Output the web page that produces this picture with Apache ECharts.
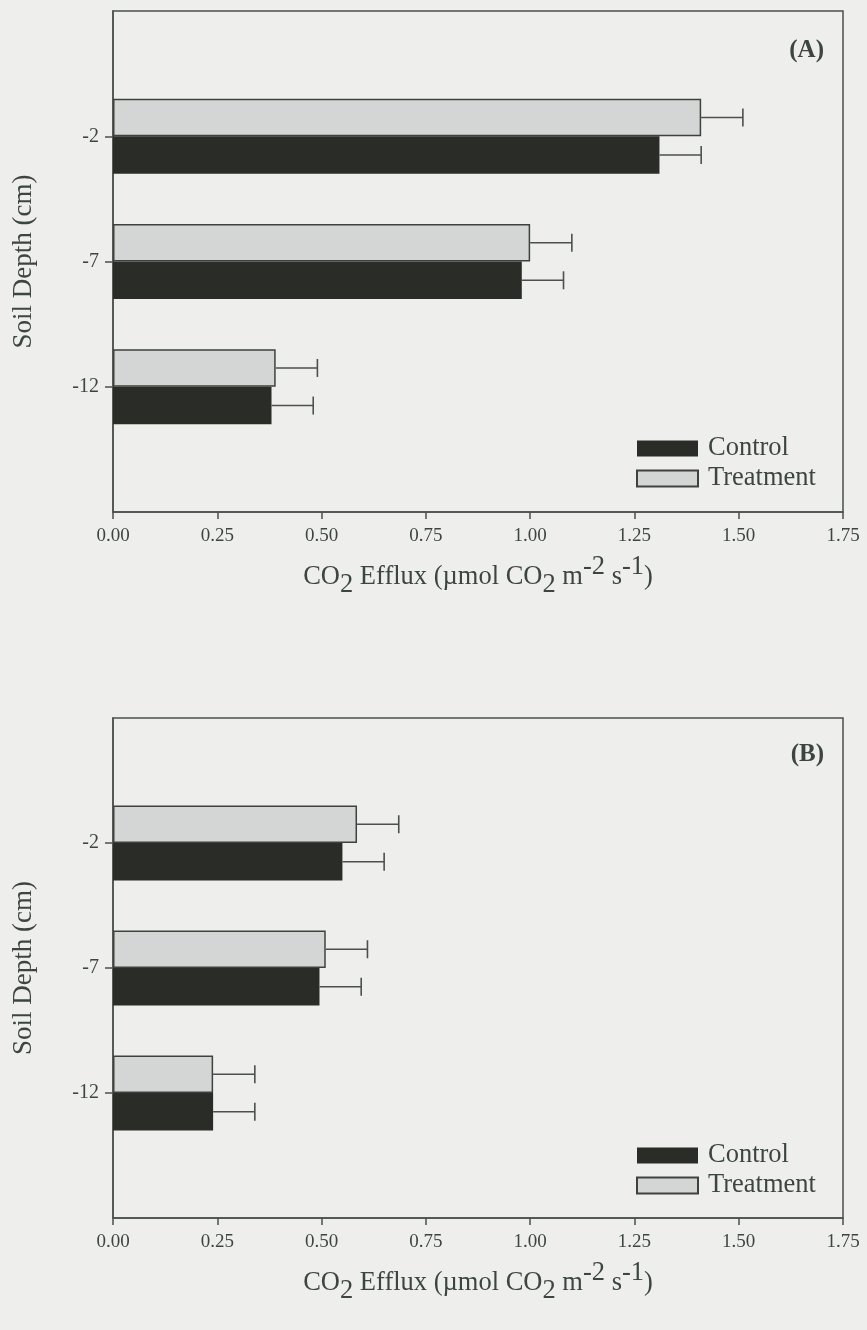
<!DOCTYPE html>
<html>
<head>
<meta charset="utf-8">
<script src="https://cdn.jsdelivr.net/npm/echarts@6/dist/echarts.min.js"></script>
<style>
  html, body { margin: 0; padding: 0; background: #eeefed; }
  #chart { width: 867px; height: 1330px; }
</style>
</head>
<body>
<div id="chart"></div>
<script>
// Soil depth categories (empty slots pad the axis above and below)
const depthLabels = ['-2', '-7', '-12'];
const axisSlots = ['', '-2', '-7', '-12', ''];

// Panel A: CO2 efflux by depth
const treatmentA = [1.41, 1.00, 0.39];
const controlA = [1.31, 0.98, 0.38];
const errTreatmentA = [0.10, 0.10, 0.10];
const errControlA = [0.10, 0.10, 0.10];

// Panel B: CO2 efflux by depth
const treatmentB = [0.585, 0.51, 0.24];
const controlB = [0.55, 0.495, 0.24];
const errTreatmentB = [0.10, 0.10, 0.10];
const errControlB = [0.10, 0.10, 0.10];

// Efflux axis range
const xMin = 0;
const xMax = 1.75;
const xStep = 0.25;

const SERIF = '"Liberation Serif", "Times New Roman", serif';
const INK = '#3c463e';
const LINE = '#4b504b';
const DARK = '#2a2d27';
const LIGHT = '#d3d6d4';

const nameRich = {
  b:   { fontFamily: SERIF, fontSize: 26.5, color: INK, verticalAlign: 'top', padding: [10, 0, 0, 0] },
  sub: { fontFamily: SERIF, fontSize: 26.5, color: INK, verticalAlign: 'top', padding: [18, 0, 0, 0] },
  sup: { fontFamily: SERIF, fontSize: 26.5, color: INK, verticalAlign: 'top', padding: [0, 0, 0, 0] }
};
const xName = '{b|CO}{sub|2}{b| Efflux (\u00b5mol CO}{sub|2}{b| m}{sup|-2}{b| s}{sup|-1}{b|)}';

function xAxisFor(gridIndex) {
  return {
    type: 'value', gridIndex, min: xMin, max: xMax, interval: xStep,
    name: xName, nameLocation: 'middle', nameGap: 42,
    nameTextStyle: { rich: nameRich },
    axisLine: { show: true, lineStyle: { color: LINE, width: 1.5 } },
    axisTick: { show: true, length: 7, inside: false, lineStyle: { color: LINE, width: 1.5 } },
    axisLabel: {
      margin: 15, fontFamily: SERIF, fontSize: 19, color: INK,
      formatter: v => v.toFixed(2)
    },
    splitLine: { show: false }
  };
}

function yAxisFor(gridIndex) {
  return {
    type: 'category', gridIndex, data: axisSlots, inverse: true, boundaryGap: false,
    name: 'Soil Depth (cm)', nameLocation: 'middle', nameGap: 76, nameRotate: 90,
    nameTextStyle: { fontFamily: SERIF, fontSize: 27, color: INK },
    axisLine: { show: true, lineStyle: { color: LINE, width: 1.5 } },
    axisTick: {
      show: true, length: 8, inside: false,
      interval: (i, v) => v !== '',
      lineStyle: { color: LINE, width: 1.5 }
    },
    axisLabel: {
      margin: 14, fontFamily: SERIF, fontSize: 20, color: INK,
      interval: (i, v) => v !== ''
    },
    splitLine: { show: false }
  };
}

function barSeries(name, gridIndex, values, color, border) {
  return {
    name, type: 'bar', xAxisIndex: gridIndex, yAxisIndex: gridIndex,
    data: depthLabels.map((d, i) => [values[i], d]),
    encode: { x: 0, y: 1 },
    barWidth: '30%', barGap: '0%',
    itemStyle: { color, borderColor: border, borderWidth: border ? 1.5 : 0 },
    emphasis: { disabled: true }
  };
}

// Right-hand error whiskers, offset to sit on the matching bar
function errorSeries(gridIndex, values, errs, side) {
  return {
    type: 'custom', xAxisIndex: gridIndex, yAxisIndex: gridIndex, silent: true, z: 5,
    data: depthLabels.map((d, i) => [values[i], d, values[i] + errs[i]]),
    encode: { x: [0, 2], y: 1 },
    renderItem(params, api) {
      const cat = api.value(1);
      const start = api.coord([api.value(0), cat]);
      const end = api.coord([api.value(2), cat]);
      const band = api.size([0, 1])[1];
      const y = start[1] + side * band * 0.15;
      const cap = 9;
      const st = { stroke: LINE, lineWidth: 1.6 };
      return {
        type: 'group',
        children: [
          { type: 'line', shape: { x1: start[0], y1: y, x2: end[0], y2: y }, style: st },
          { type: 'line', shape: { x1: end[0], y1: y - cap, x2: end[0], y2: y + cap }, style: st }
        ]
      };
    }
  };
}

function legendFor(top) {
  return {
    left: 631, top, orient: 'vertical', itemWidth: 61, itemHeight: 16, itemGap: 3,
    icon: 'rect', selectedMode: false,
    data: ['Control', 'Treatment'],
    textStyle: { fontFamily: SERIF, fontSize: 26.5, color: INK, padding: [0, 0, 0, 5] }
  };
}

const chart = echarts.init(document.getElementById('chart'), null, { renderer: 'canvas' });
chart.setOption({
  backgroundColor: '#eeefed',
  animation: false,
  title: [
    { text: '(A)', right: 38, top: 33, textStyle: { fontFamily: SERIF, fontSize: 25, fontWeight: 'bold', color: INK } },
    { text: '(B)', right: 38, top: 737, textStyle: { fontFamily: SERIF, fontSize: 25, fontWeight: 'bold', color: INK } }
  ],
  legend: [legendFor(430), legendFor(1137)],
  grid: [
    { left: 113, right: 24, top: 11, height: 501, show: true, borderColor: LINE, borderWidth: 1.5, backgroundColor: 'transparent' },
    { left: 113, right: 24, top: 718, height: 500, show: true, borderColor: LINE, borderWidth: 1.5, backgroundColor: 'transparent' }
  ],
  xAxis: [xAxisFor(0), xAxisFor(1)],
  yAxis: [yAxisFor(0), yAxisFor(1)],
  series: [
    barSeries('Treatment', 0, treatmentA, LIGHT, '#3e423e'),
    barSeries('Control', 0, controlA, DARK, null),
    errorSeries(0, treatmentA, errTreatmentA, -1),
    errorSeries(0, controlA, errControlA, 1),
    barSeries('Treatment', 1, treatmentB, LIGHT, '#3e423e'),
    barSeries('Control', 1, controlB, DARK, null),
    errorSeries(1, treatmentB, errTreatmentB, -1),
    errorSeries(1, controlB, errControlB, 1)
  ]
});
</script>
</body>
</html>
